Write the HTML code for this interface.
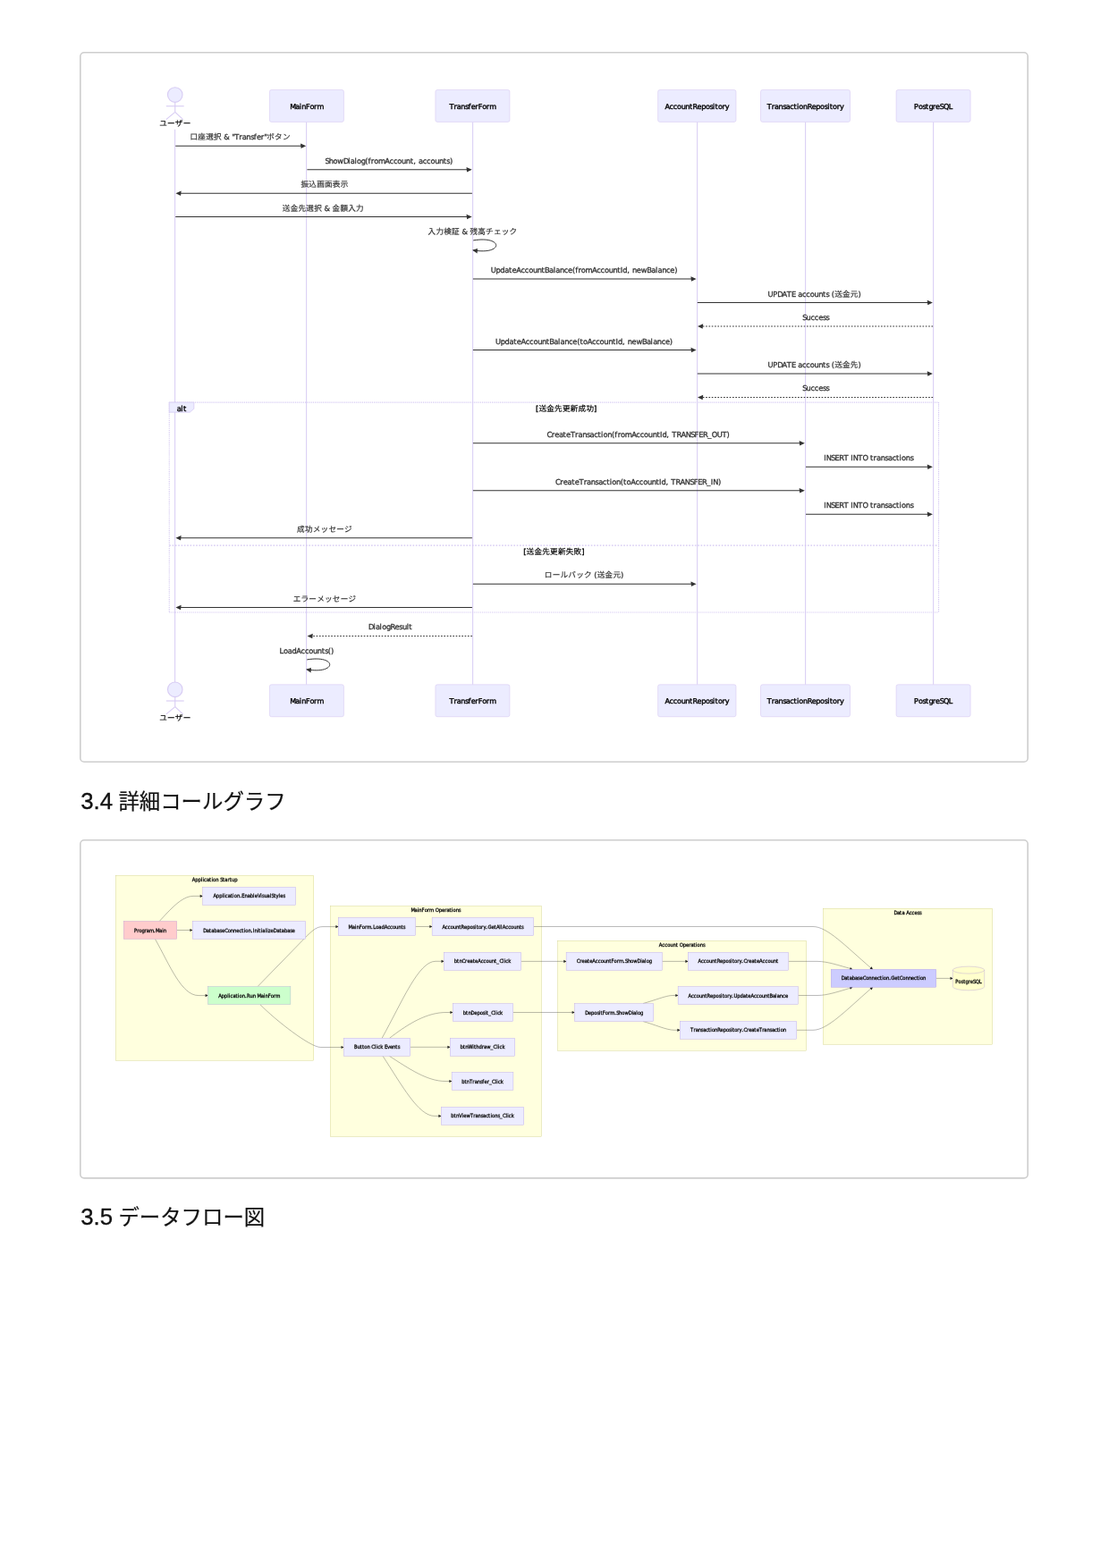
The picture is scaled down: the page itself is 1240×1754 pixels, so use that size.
<!DOCTYPE html>
<html lang="ja">
<head>
<meta charset="utf-8">
<title>3.4 詳細コールグラフ</title>
<style>
html,body{margin:0;padding:0;background:#fff;}
body{width:1240px;height:1754px;position:relative;overflow:hidden;font-family:"Liberation Sans","Noto Sans CJK JP",sans-serif;color:#111;}
.page{position:absolute;left:0;top:0;width:1240px;height:1754px;will-change:transform;}
.mermaid{position:absolute;left:89px;width:1061px;margin:0;}
.mermaid svg{display:block;width:1061px;height:100%;overflow:visible;}
.frame{fill:#fff;stroke:#cecece;stroke-width:1.6px;}
h2{position:absolute;margin:0;left:90.2px;font-weight:400;font-size:23.4px;line-height:40px;height:40px;white-space:nowrap;color:#111;}
h2 .n{font-family:"Liberation Sans",sans-serif;font-size:25.8px;margin-right:-0.77px;-webkit-text-stroke:0.35px #111;}
h2 .j{font-family:"Noto Sans CJK JP",sans-serif;-webkit-text-stroke:0.2px #111;}
.t{font-family:"DejaVu Sans","Noto Sans CJK JP",sans-serif;stroke:#000;stroke-width:0.36px;}
.m{stroke:#333;stroke-width:0.3px;}
.c{font-family:"Noto Sans CJK JP",sans-serif;stroke-width:0.18px;}
.t2{font-family:"DejaVu Sans Condensed","DejaVu Sans","Noto Sans CJK JP",sans-serif;stroke:#111;stroke-width:0.3px;}
</style>
</head>
<body>
<main class="page">
<figure class="mermaid" id="sequence-diagram" style="top:58px;height:795px">
<svg viewBox="89 58 1061 795" role="img" aria-label="振込処理シーケンス図">
<rect class="frame" x="89.8" y="58.8" width="1059.4" height="793.4" rx="4.3"/>
<line x1="195.58" y1="144.69" x2="195.58" y2="765.8" stroke="#dcd2f5" stroke-width="1.15"/>
<line x1="342.58" y1="136.43" x2="342.58" y2="765.8" stroke="#dcd2f5" stroke-width="1.15"/>
<line x1="528.58" y1="136.43" x2="528.58" y2="765.8" stroke="#dcd2f5" stroke-width="1.15"/>
<line x1="779.58" y1="136.43" x2="779.58" y2="765.8" stroke="#dcd2f5" stroke-width="1.15"/>
<line x1="900.58" y1="136.43" x2="900.58" y2="765.8" stroke="#dcd2f5" stroke-width="1.15"/>
<line x1="1043.58" y1="136.43" x2="1043.58" y2="765.8" stroke="#dcd2f5" stroke-width="1.15"/>
<g stroke="#d7cbf3" stroke-width="1.1" fill="#ECECFF">
<line x1="195.75" y1="114.33" x2="195.75" y2="125.37"/>
<line x1="185.81" y1="118.75" x2="205.69" y2="118.75"/>
<line x1="185.81" y1="133.65" x2="195.75" y2="125.37"/>
<line x1="195.75" y1="125.37" x2="204.58" y2="133.65"/>
<circle cx="195.75" cy="106.05" r="8.28"/>
</g>
<text class="t c" x="178.22 187.05 195.88 204.71" y="141" font-size="8.57" fill="#000" transform="matrix(1 0 0.0005 1 -0.0705 0)">ユーザー</text>
<rect x="301.4" y="100.53" width="83" height="35.9" rx="2.1" fill="#ECECFF" stroke="#d6caf2" stroke-width="0.6"/>
<text class="t" x="324.23 330.32 334.83 337.28 341.97 346.48 351.1 354.44" y="122" font-size="8.08" fill="#000" transform="matrix(1 0 0.0005 1 -0.0610 0)">MainForm</text>
<rect x="486.9" y="100.53" width="83" height="35.9" rx="2.1" fill="#ECECFF" stroke="#d6caf2" stroke-width="0.6"/>
<text class="t" x="502.49 507.48 510.82 515.33 520.03 523.51 526.69 531.37 534.71 539.22 543.84 547.18" y="122" font-size="8.08" fill="#000" transform="matrix(1 0 0.0005 1 -0.0610 0)">TransferForm</text>
<rect x="735.65" y="100.53" width="87.3" height="35.9" rx="2.1" fill="#ECECFF" stroke="#d6caf2" stroke-width="0.6"/>
<text class="t" x="743.5 748.57 752.83 757.08 761.7 766.39 771.08 774.48 779.48 784.17 788.95 793.57 797.05 799.5 802.9 807.52 810.86" y="122" font-size="8.08" fill="#000" transform="matrix(1 0 0.0005 1 -0.0610 0)">AccountRepository</text>
<rect x="850.5" y="100.53" width="100" height="35.9" rx="2.1" fill="#ECECFF" stroke="#d6caf2" stroke-width="0.6"/>
<text class="t" x="857.72 862.71 866.06 870.57 875.26 878.74 883.25 887.51 890.91 893.36 897.97 902.67 907.67 912.35 917.14 921.75 925.23 927.68 931.08 935.7 939.04" y="122" font-size="8.08" fill="#000" transform="matrix(1 0 0.0005 1 -0.0610 0)">TransactionRepository</text>
<rect x="1002.1" y="100.53" width="83" height="35.9" rx="2.1" fill="#ECECFF" stroke="#d6caf2" stroke-width="0.6"/>
<text class="t" x="1022.14 1026.93 1031.55 1035.03 1038.43 1042.74 1046.09 1050.77 1054.9 1060.71" y="122" font-size="8.08" fill="#000" transform="matrix(1 0 0.0005 1 -0.0610 0)">PostgreSQL</text>
<g stroke="#d7cbf3" stroke-width="1.1" fill="#ECECFF">
<line x1="195.75" y1="779.6" x2="195.75" y2="790.64"/>
<line x1="185.81" y1="784.02" x2="205.69" y2="784.02"/>
<line x1="185.81" y1="798.92" x2="195.75" y2="790.64"/>
<line x1="195.75" y1="790.64" x2="204.58" y2="798.92"/>
<circle cx="195.75" cy="771.32" r="8.28"/>
</g>
<text class="t c" x="178.22 187.05 195.88 204.71" y="806" font-size="8.57" fill="#000" transform="matrix(1 0 0.0005 1 -0.4030 0)">ユーザー</text>
<rect x="301.4" y="765.8" width="83" height="35.9" rx="2.1" fill="#ECECFF" stroke="#d6caf2" stroke-width="0.6"/>
<text class="t" x="324.23 330.32 334.83 337.28 341.97 346.48 351.1 354.44" y="787" font-size="8.08" fill="#000" transform="matrix(1 0 0.0005 1 -0.3935 0)">MainForm</text>
<rect x="486.9" y="765.8" width="83" height="35.9" rx="2.1" fill="#ECECFF" stroke="#d6caf2" stroke-width="0.6"/>
<text class="t" x="502.49 507.48 510.82 515.33 520.03 523.51 526.69 531.37 534.71 539.22 543.84 547.18" y="787" font-size="8.08" fill="#000" transform="matrix(1 0 0.0005 1 -0.3935 0)">TransferForm</text>
<rect x="735.65" y="765.8" width="87.3" height="35.9" rx="2.1" fill="#ECECFF" stroke="#d6caf2" stroke-width="0.6"/>
<text class="t" x="743.5 748.57 752.83 757.08 761.7 766.39 771.08 774.48 779.48 784.17 788.95 793.57 797.05 799.5 802.9 807.52 810.86" y="787" font-size="8.08" fill="#000" transform="matrix(1 0 0.0005 1 -0.3935 0)">AccountRepository</text>
<rect x="850.5" y="765.8" width="100" height="35.9" rx="2.1" fill="#ECECFF" stroke="#d6caf2" stroke-width="0.6"/>
<text class="t" x="857.72 862.71 866.06 870.57 875.26 878.74 883.25 887.51 890.91 893.36 897.97 902.67 907.67 912.35 917.14 921.75 925.23 927.68 931.08 935.7 939.04" y="787" font-size="8.08" fill="#000" transform="matrix(1 0 0.0005 1 -0.3935 0)">TransactionRepository</text>
<rect x="1002.1" y="765.8" width="83" height="35.9" rx="2.1" fill="#ECECFF" stroke="#d6caf2" stroke-width="0.6"/>
<text class="t" x="1022.14 1026.93 1031.55 1035.03 1038.43 1042.74 1046.09 1050.77 1054.9 1060.71" y="787" font-size="8.08" fill="#000" transform="matrix(1 0 0.0005 1 -0.3935 0)">PostgreSQL</text>
<line x1="196.25" y1="163.2" x2="339.2" y2="163.2" stroke="#333" stroke-width="1.05"/>
<path d="M342.2,163.2 L336,160.4 L336.55,166 Z" fill="#333"/>
<text class="t m" font-size="8.3" fill="#333" transform="matrix(1 0 0.0005 1 -0.0780 0)"><tspan class="c" font-size="8.57" x="212.54 221.37 230.2 239.03" y="156">口座選択</tspan><tspan x="247.73 250.39 256.63 259.29 262.16 267.29 270.72 275.36 280.18 283.76 287.03 291.84 295.28" y="156"> &amp; "Transfer"</tspan><tspan class="c" font-size="8.57" x="298.28 307.11 315.94" y="156">ボタン</tspan></text>
<line x1="343.4" y1="189.7" x2="524.7" y2="189.7" stroke="#333" stroke-width="1.05"/>
<path d="M527.7,189.7 L521.5,186.9 L522.05,192.5 Z" fill="#333"/>
<text class="t m" x="363.56 367.81 372.63 377.38 383.95 389.36 391.88 396.51 399.12 403.86 408.3 411.54 414.81 418.24 422.98 430.31 435.53 439.9 444.27 449.01 453.83 458.66 462.15 465.4 468.05 472.69 477.06 481.43 486.18 491 495.82 499.32 502.9" y="183" font-size="8.3" fill="#333" transform="matrix(1 0 0.0005 1 -0.0915 0)">ShowDialog(fromAccount, accounts)</text>
<line x1="527.9" y1="216.2" x2="199.45" y2="216.2" stroke="#333" stroke-width="1.05"/>
<path d="M196.45,216.2 L202.65,213.4 L202.1,219 Z" fill="#333"/>
<text class="t m c" x="336.51 345.34 354.18 363.01 371.84 380.67" y="209" font-size="8.57" fill="#333" transform="matrix(1 0 0.0005 1 -0.1045 0)">振込画面表示</text>
<line x1="196.25" y1="242.5" x2="524.7" y2="242.5" stroke="#333" stroke-width="1.05"/>
<path d="M527.7,242.5 L521.5,239.7 L522.05,245.3 Z" fill="#333"/>
<text class="t m" font-size="8.3" fill="#333" transform="matrix(1 0 0.0005 1 -0.1180 0)"><tspan class="c" font-size="8.57" x="315.89 324.72 333.55 342.38 351.22" y="236">送金先選択</tspan><tspan x="359.91 362.57 368.81" y="236"> &amp; </tspan><tspan class="c" font-size="8.57" x="371.6 380.43 389.26 398.1" y="236">金額入力</tspan></text>
<path d="M529.23,268.9 C563.18,263.38 563.18,285.46 529.23,279.94" fill="none" stroke="#333" stroke-width="1"/>
<path transform="translate(529.23 279.94) rotate(189.46)" d="M1.16,0 L-4.91,-2.76 L-4.36,2.76 Z" fill="#333"/>
<text class="t m" font-size="8.3" fill="#333" transform="matrix(1 0 0.0005 1 -0.1310 0)"><tspan class="c" font-size="8.57" x="478.6 487.43 496.26 505.09" y="262">入力検証</tspan><tspan x="513.79 516.45 522.69" y="262"> &amp; </tspan><tspan class="c" font-size="8.57" x="525.48 534.31 543.14 551.97 560.8 569.64" y="262">残高チェック</tspan></text>
<line x1="528.9" y1="312" x2="775.6" y2="312" stroke="#333" stroke-width="1.05"/>
<path d="M778.6,312 L772.4,309.2 L772.95,314.8 Z" fill="#333"/>
<text class="t m" x="548.7 554.42 559.34 564.26 568.9 572.4 577.21 582.42 586.79 591.16 595.91 600.73 605.55 609.05 614.05 618.68 621.29 625.93 630.75 635.12 639.93 643.18 646.44 649.88 654.62 661.95 667.16 671.54 675.91 680.65 685.47 690.29 693.79 696.25 701.17 704.41 707.07 711.89 716.7 723.27 728.27 732.91 735.51 740.15 744.97 749.35 754.16" y="305" font-size="8.3" fill="#333" transform="matrix(1 0 0.0005 1 -0.1525 0)">UpdateAccountBalance(fromAccountId, newBalance)</text>
<line x1="779.8" y1="338.5" x2="1039.9" y2="338.5" stroke="#333" stroke-width="1.05"/>
<path d="M1042.9,338.5 L1036.7,335.7 L1037.25,341.3 Z" fill="#333"/>
<text class="t m" font-size="8.3" fill="#333" transform="matrix(1 0 0.0005 1 -0.1660 0)"><tspan x="858.51 864.23 869.16 874.58 879.79 884.92 889.65 892.31 896.95 901.32 905.69 910.43 915.26 920.08 923.58 927.15 929.81" y="332">UPDATE accounts (</tspan><tspan class="c" font-size="8.57" x="933.18 942.02 950.85" y="332">送金元</tspan><tspan x="959.55" y="332">)</tspan></text>
<line x1="1043.1" y1="365" x2="783" y2="365" stroke="#333" stroke-width="1.05" stroke-dasharray="1.66 1.66"/>
<path d="M780,365 L786.2,362.2 L785.65,367.8 Z" fill="#333"/>
<text class="t m" x="897.36 901.61 906.43 910.8 915.17 919.99 923.56" y="358" font-size="8.3" fill="#333" transform="matrix(1 0 0.0005 1 -0.1790 0)">Success</text>
<line x1="528.9" y1="391.5" x2="775.6" y2="391.5" stroke="#333" stroke-width="1.05"/>
<path d="M778.6,391.5 L772.4,388.7 L772.95,394.3 Z" fill="#333"/>
<text class="t m" x="553.97 559.69 564.61 569.53 574.17 577.66 582.48 587.69 592.06 596.43 601.18 606 610.82 614.32 619.32 623.95 626.56 631.2 636.02 640.39 645.2 648.44 651.94 656.68 661.9 666.27 670.64 675.38 680.2 685.03 688.52 690.98 695.9 699.14 701.8 706.62 711.43 718 723 727.64 730.25 734.88 739.71 744.08 748.89" y="385" font-size="8.3" fill="#333" transform="matrix(1 0 0.0005 1 -0.1925 0)">UpdateAccountBalance(toAccountId, newBalance)</text>
<line x1="779.8" y1="418" x2="1039.9" y2="418" stroke="#333" stroke-width="1.05"/>
<path d="M1042.9,418 L1036.7,415.2 L1037.25,420.8 Z" fill="#333"/>
<text class="t m" font-size="8.3" fill="#333" transform="matrix(1 0 0.0005 1 -0.2055 0)"><tspan x="858.51 864.23 869.16 874.58 879.79 884.92 889.65 892.31 896.95 901.32 905.69 910.43 915.26 920.08 923.58 927.15 929.81" y="411">UPDATE accounts (</tspan><tspan class="c" font-size="8.57" x="933.18 942.02 950.85" y="411">送金先</tspan><tspan x="959.55" y="411">)</tspan></text>
<line x1="1043.1" y1="444.5" x2="783" y2="444.5" stroke="#333" stroke-width="1.05" stroke-dasharray="1.66 1.66"/>
<path d="M780,444.5 L786.2,441.7 L785.65,447.3 Z" fill="#333"/>
<text class="t m" x="897.36 901.61 906.43 910.8 915.17 919.99 923.56" y="437" font-size="8.3" fill="#333" transform="matrix(1 0 0.0005 1 -0.2185 0)">Success</text>
<line x1="528.9" y1="495.75" x2="896.8" y2="495.75" stroke="#333" stroke-width="1.05"/>
<path d="M899.8,495.75 L893.6,492.95 L894.15,498.55 Z" fill="#333"/>
<text class="t m" x="611.47 616.75 620.19 625 629.64 633.14 637.95 643.08 646.52 651.15 655.98 659.55 664.19 668.56 672.06 674.58 679.32 684.14 687.38 690.65 694.09 698.83 706.16 711.37 715.74 720.12 724.86 729.68 734.5 738 740.46 745.37 748.62 751.27 756.41 761.55 766.76 772.39 776.64 781.28 786.01 791.15 795.78 801.73 807.45 812.59" y="489" font-size="8.3" fill="#333" transform="matrix(1 0 0.0005 1 -0.2445 0)">CreateTransaction(fromAccountId, TRANSFER_OUT)</text>
<line x1="901" y1="522.25" x2="1039.9" y2="522.25" stroke="#333" stroke-width="1.05"/>
<path d="M1042.9,522.25 L1036.7,519.45 L1037.25,525.05 Z" fill="#333"/>
<text class="t m" x="921.27 923.72 929.36 933.6 938.34 943.48 948.61 951.27 953.72 959.36 964.49 970.44 973.1 976.6 980.03 984.67 989.49 993.07 997.71 1002.08 1005.58 1008.09 1012.84 1017.66" y="515" font-size="8.3" fill="#333" transform="matrix(1 0 0.0005 1 -0.2575 0)">INSERT INTO transactions</text>
<line x1="528.9" y1="548.75" x2="896.8" y2="548.75" stroke="#333" stroke-width="1.05"/>
<path d="M899.8,548.75 L893.6,545.95 L894.15,551.55 Z" fill="#333"/>
<text class="t m" x="621.1 626.38 629.82 634.63 639.27 642.76 647.58 652.71 656.14 660.78 665.6 669.18 673.82 678.19 681.69 684.2 688.95 693.77 697.01 700.51 705.25 710.46 714.83 719.21 723.95 728.77 733.59 737.09 739.55 744.46 747.71 750.36 755.5 760.64 765.85 771.48 775.73 780.37 785.1 790.24 794.87 797.32 802.96" y="542" font-size="8.3" fill="#333" transform="matrix(1 0 0.0005 1 -0.2710 0)">CreateTransaction(toAccountId, TRANSFER_IN)</text>
<line x1="901" y1="575.25" x2="1039.9" y2="575.25" stroke="#333" stroke-width="1.05"/>
<path d="M1042.9,575.25 L1036.7,572.45 L1037.25,578.05 Z" fill="#333"/>
<text class="t m" x="921.27 923.72 929.36 933.6 938.34 943.48 948.61 951.27 953.72 959.36 964.49 970.44 973.1 976.6 980.03 984.67 989.49 993.07 997.71 1002.08 1005.58 1008.09 1012.84 1017.66" y="568" font-size="8.3" fill="#333" transform="matrix(1 0 0.0005 1 -0.2840 0)">INSERT INTO transactions</text>
<line x1="527.9" y1="601.75" x2="199.45" y2="601.75" stroke="#333" stroke-width="1.05"/>
<path d="M196.45,601.75 L202.65,598.95 L202.1,604.55 Z" fill="#333"/>
<text class="t m c" x="332.1 340.93 349.76 358.59 367.42 376.26 385.09" y="595" font-size="8.57" fill="#333" transform="matrix(1 0 0.0005 1 -0.2975 0)">成功メッセージ</text>
<line x1="528.9" y1="653.25" x2="775.6" y2="653.25" stroke="#333" stroke-width="1.05"/>
<path d="M778.6,653.25 L772.4,650.45 L772.95,656.05 Z" fill="#333"/>
<text class="t m" font-size="8.3" fill="#333" transform="matrix(1 0 0.0005 1 -0.3230 0)"><tspan class="c" font-size="8.57" x="608.87 617.7 626.53 635.36 644.2 653.03" y="646">ロールバック</tspan><tspan x="661.73 664.39" y="646"> (</tspan><tspan class="c" font-size="8.57" x="667.76 676.59 685.42" y="646">送金元</tspan><tspan x="694.12" y="646">)</tspan></text>
<line x1="527.9" y1="679.5" x2="199.45" y2="679.5" stroke="#333" stroke-width="1.05"/>
<path d="M196.45,679.5 L202.65,676.7 L202.1,682.3 Z" fill="#333"/>
<text class="t m c" x="327.68 336.51 345.34 354.18 363.01 371.84 380.67 389.5" y="673" font-size="8.57" fill="#333" transform="matrix(1 0 0.0005 1 -0.3365 0)">エラーメッセージ</text>
<line x1="527.9" y1="711.5" x2="346.6" y2="711.5" stroke="#333" stroke-width="1.05" stroke-dasharray="1.66 1.66"/>
<path d="M343.6,711.5 L349.8,708.7 L349.25,714.3 Z" fill="#333"/>
<text class="t m" x="412.05 417.46 419.98 424.62 427.22 431.96 436.4 441.54 446.35 449.93 454.75 457.36" y="704" font-size="8.3" fill="#333" transform="matrix(1 0 0.0005 1 -0.3520 0)">DialogResult</text>
<path d="M343.23,737.9 C377.18,732.38 377.18,754.46 343.23,748.94" fill="none" stroke="#333" stroke-width="1"/>
<path transform="translate(343.23 748.94) rotate(189.46)" d="M1.16,0 L-4.91,-2.76 L-4.36,2.76 Z" fill="#333"/>
<text class="t m" x="312.57 317.04 321.78 326.42 331.33 336.55 340.92 345.29 350.03 354.85 359.68 363.17 366.75 369.99" y="731" font-size="8.3" fill="#333" transform="matrix(1 0 0.0005 1 -0.3655 0)">LoadAccounts()</text>
<g fill="none" stroke="#d2c5f1" stroke-width="1.1" stroke-dasharray="1.1 1.1">
<line x1="189.25" y1="450.1" x2="1049.55" y2="450.1"/>
<line x1="1049.55" y1="450.1" x2="1049.55" y2="685"/>
<line x1="189.25" y1="685" x2="1049.55" y2="685"/>
<line x1="189.25" y1="450.1" x2="189.25" y2="685"/>
<line x1="189.25" y1="610.15" x2="1049.55" y2="610.15" stroke-dasharray="1.66 1.66"/>
</g>
<polygon points="189.25,450.1 216.85,450.1 216.85,457.28 212.21,461.14 189.25,461.14" fill="#ECECFF" stroke="#d6caf2" stroke-width="0.8"/>
<text class="t" x="197.68 202.32 204.92" y="460" font-size="8.3" fill="#000" transform="matrix(1 0 0.0005 1 -0.2300 0)">alt</text>
<text class="t" font-size="8.3" fill="#000" transform="matrix(1 0 0.0005 1 -0.2300 0)"><tspan x="599.05" y="460">[</tspan><tspan class="c" font-size="8.57" x="602.42 611.25 620.08 628.92 637.75 646.58 655.41" y="460">送金先更新成功</tspan><tspan x="664.11" y="460">]</tspan></text>
<text class="t" font-size="8.3" fill="#000" transform="matrix(1 0 0.0005 1 -0.3100 0)"><tspan x="585.25" y="620">[</tspan><tspan class="c" font-size="8.57" x="588.62 597.45 606.28 615.12 623.95 632.78 641.61" y="620">送金先更新失敗</tspan><tspan x="650.31" y="620">]</tspan></text>
</svg>
</figure>
<h2 style="top:875px"><span class="n">3.4 </span><span class="j">詳細コールグラフ</span></h2>
<figure class="mermaid" id="call-graph" style="top:939px;height:380px">
<svg viewBox="89 939 1061 380" role="img" aria-label="詳細コールグラフ">
<rect class="frame" x="89.8" y="939.7" width="1059.4" height="378.2" rx="4.3"/>
<rect x="129.4" y="979.4" width="221.4" height="206.9" fill="#ffffde" stroke="#aaaa33" stroke-width="0.38" stroke-opacity="0.6"/>
<text class="t2" x="214.7 218.16 221.43 224.7 226.43 228.1 231 234.08 236.41 238.08 241.23 244.43 246.2 249.02 251.34 254.42 256.71 259.03 262.23" y="986" font-size="5.87" fill="#111" transform="matrix(1 0 0.0005 1 -0.4930 0)">Application Startup</text>
<rect x="369.3" y="1013.5" width="236.1" height="257.9" fill="#ffffde" stroke="#aaaa33" stroke-width="0.38" stroke-opacity="0.6"/>
<text class="t2" x="459.47 463.62 466.7 468.38 471.58 474.66 477.81 480.09 484.96 486.73 490.68 493.95 497.15 499.43 502.51 504.83 506.5 509.66 512.86" y="1020" font-size="5.87" fill="#111" transform="matrix(1 0 0.0005 1 -0.5100 0)">MainForm Operations</text>
<rect x="623.6" y="1052.3" width="278" height="122.9" fill="#ffffde" stroke="#aaaa33" stroke-width="0.38" stroke-opacity="0.6"/>
<text class="t2" x="736.89 740.35 743.25 746.16 749.31 752.51 755.72 758.04 759.8 763.76 767.03 770.22 772.51 775.59 777.91 779.58 782.73 785.93" y="1059" font-size="5.87" fill="#111" transform="matrix(1 0 0.0005 1 -0.5295 0)">Account Operations</text>
<rect x="920.3" y="1016.2" width="189.3" height="152.1" fill="#ffffde" stroke="#aaaa33" stroke-width="0.38" stroke-opacity="0.6"/>
<text class="t2" x="999.42 1003.01 1006.09 1008.42 1011.5 1013.26 1016.72 1019.63 1022.53 1025.73 1028.11" y="1023" font-size="5.87" fill="#111" transform="matrix(1 0 0.0005 1 -0.5115 0)">Data Access</text>
<path d="M178.3,1030.4 C190,1018 203,1002.4 216,1002.4 L224,1002.4" fill="none" stroke="#484848" stroke-width="0.38"/>
<path transform="translate(226.5 1002.4) rotate(0)" d="M0.4,0 L-2.8,-1.6 L-2.8,1.6 Z" fill="#222"/>
<path d="M197.8,1040.5 L212.5,1040.5" fill="none" stroke="#484848" stroke-width="0.38"/>
<path transform="translate(215.2 1040.5) rotate(0)" d="M0.4,0 L-2.8,-1.6 L-2.8,1.6 Z" fill="#222"/>
<path d="M173.5,1050.5 C190,1080 203,1113.6 222,1113.6 L230,1113.6" fill="none" stroke="#484848" stroke-width="0.38"/>
<path transform="translate(232.4 1113.6) rotate(0)" d="M0.4,0 L-2.8,-1.6 L-2.8,1.6 Z" fill="#222"/>
<path d="M288.3,1103.35 L343.5,1046.6 C350,1040.5 354,1036.6 361,1036.6 L376,1036.6" fill="none" stroke="#484848" stroke-width="0.38"/>
<path transform="translate(378.2 1036.6) rotate(0)" d="M0.4,0 L-2.8,-1.6 L-2.8,1.6 Z" fill="#222"/>
<path d="M291,1123.8 C308.2,1141.3 346.7,1171.5 358.5,1171.5 L382,1171.5" fill="none" stroke="#484848" stroke-width="0.38"/>
<path transform="translate(384.3 1171.5) rotate(0)" d="M0.4,0 L-2.8,-1.6 L-2.8,1.6 Z" fill="#222"/>
<path d="M464.6,1036.5 L481,1036.5" fill="none" stroke="#484848" stroke-width="0.38"/>
<path transform="translate(483.1 1036.5) rotate(0)" d="M0.4,0 L-2.8,-1.6 L-2.8,1.6 Z" fill="#222"/>
<path d="M427.1,1161.3 C450,1120 468,1075.3 487,1075.3 L494,1075.3" fill="none" stroke="#484848" stroke-width="0.38"/>
<path transform="translate(496.3 1075.3) rotate(0)" d="M0.4,0 L-2.8,-1.6 L-2.8,1.6 Z" fill="#222"/>
<path d="M435.5,1161.3 C458,1144 478,1132.5 499,1132.5 L504,1132.5" fill="none" stroke="#484848" stroke-width="0.38"/>
<path transform="translate(506.2 1132.5) rotate(0)" d="M0.4,0 L-2.8,-1.6 L-2.8,1.6 Z" fill="#222"/>
<path d="M458.8,1171.3 L501,1171.3" fill="none" stroke="#484848" stroke-width="0.38"/>
<path transform="translate(503.2 1171.3) rotate(0)" d="M0.4,0 L-2.8,-1.6 L-2.8,1.6 Z" fill="#222"/>
<path d="M435.5,1181.4 C458,1196 478,1209.5 498,1209.5 L503,1209.5" fill="none" stroke="#484848" stroke-width="0.38"/>
<path transform="translate(505.1 1209.5) rotate(0)" d="M0.4,0 L-2.8,-1.6 L-2.8,1.6 Z" fill="#222"/>
<path d="M428.1,1181.4 C450,1215 468,1248.4 486,1248.4 L491,1248.4" fill="none" stroke="#484848" stroke-width="0.38"/>
<path transform="translate(493.2 1248.4) rotate(0)" d="M0.4,0 L-2.8,-1.6 L-2.8,1.6 Z" fill="#222"/>
<path d="M596.7,1036.5 L909,1036.5 C925,1036.5 945,1058 974,1083" fill="none" stroke="#484848" stroke-width="0.38"/>
<path transform="translate(975.7 1084.3) rotate(40)" d="M0.4,0 L-2.8,-1.6 L-2.8,1.6 Z" fill="#222"/>
<path d="M582.7,1075.4 L631,1075.4" fill="none" stroke="#484848" stroke-width="0.38"/>
<path transform="translate(633.1 1075.4) rotate(0)" d="M0.4,0 L-2.8,-1.6 L-2.8,1.6 Z" fill="#222"/>
<path d="M573.7,1132.5 L640,1132.5" fill="none" stroke="#484848" stroke-width="0.38"/>
<path transform="translate(642.4 1132.5) rotate(0)" d="M0.4,0 L-2.8,-1.6 L-2.8,1.6 Z" fill="#222"/>
<path d="M740.5,1075.4 L767,1075.4" fill="none" stroke="#484848" stroke-width="0.38"/>
<path transform="translate(769.2 1075.4) rotate(0)" d="M0.4,0 L-2.8,-1.6 L-2.8,1.6 Z" fill="#222"/>
<path d="M719.1,1122.5 C732,1119 745,1113.5 752,1113.5 L756,1113.5" fill="none" stroke="#484848" stroke-width="0.38"/>
<path transform="translate(758.1 1113.5) rotate(0)" d="M0.4,0 L-2.8,-1.6 L-2.8,1.6 Z" fill="#222"/>
<path d="M719.1,1142.6 C732,1146 745,1152.3 754,1152.3 L758,1152.3" fill="none" stroke="#484848" stroke-width="0.38"/>
<path transform="translate(760.2 1152.3) rotate(0)" d="M0.4,0 L-2.8,-1.6 L-2.8,1.6 Z" fill="#222"/>
<path d="M881.6,1075.4 L914,1075.4 C925,1075.4 938,1080 951,1083.5" fill="none" stroke="#484848" stroke-width="0.38"/>
<path transform="translate(953.1 1084.3) rotate(17)" d="M0.4,0 L-2.8,-1.6 L-2.8,1.6 Z" fill="#222"/>
<path d="M892.5,1113.5 L914,1113.5 C925,1113.5 938,1109 951,1105.2" fill="none" stroke="#484848" stroke-width="0.38"/>
<path transform="translate(953.1 1104.4) rotate(-17)" d="M0.4,0 L-2.8,-1.6 L-2.8,1.6 Z" fill="#222"/>
<path d="M890.8,1152.3 L909,1152.3 C925,1152.3 945,1131 974,1105.7" fill="none" stroke="#484848" stroke-width="0.38"/>
<path transform="translate(975.7 1104.4) rotate(-40)" d="M0.4,0 L-2.8,-1.6 L-2.8,1.6 Z" fill="#222"/>
<path d="M1046.8,1094.4 L1063,1094.4" fill="none" stroke="#484848" stroke-width="0.38"/>
<path transform="translate(1065.3 1094.4) rotate(0)" d="M0.4,0 L-2.8,-1.6 L-2.8,1.6 Z" fill="#222"/>
<rect x="226.5" y="992.3" width="104.2" height="20.2" fill="#ECECFF" stroke="#9370DB" stroke-width="0.38" stroke-opacity="0.6"/>
<text class="t2" x="238.42 241.88 245.15 248.42 250.15 251.82 254.73 257.81 260.13 261.8 264.95 268.15 270.31 273.45 276.66 279.74 283 284.73 287.93 291.37 293.05 295.42 298.63 301.71 303.44 306.26 308.58 311.47 313.2 316.4" y="1004" font-size="5.87" fill="#111" transform="matrix(1 0 0.0005 1 -0.5020 0)">Application.EnableVisualStyles</text>
<rect x="138.2" y="1030.4" width="59.6" height="20.1" fill="#ffcccc" stroke="#9370DB" stroke-width="0.38" stroke-opacity="0.6"/>
<text class="t2" x="149.92 153.2 155.48 158.63 161.58 163.86 166.94 171.81 173.96 178.12 181.2 182.87" y="1043" font-size="5.87" fill="#111" transform="matrix(1 0 0.0005 1 -0.5215 0)">Program.Main</text>
<rect x="215.2" y="1030.4" width="126.6" height="20.1" fill="#ECECFF" stroke="#9370DB" stroke-width="0.38" stroke-opacity="0.6"/>
<text class="t2" x="227.18 230.78 233.86 236.18 239.26 242.53 245.61 247.98 251.18 254.69 257.84 261.04 264.25 267.44 270.35 272.67 274.34 277.49 280.7 282.85 284.48 287.68 289.36 291.68 293.35 296.43 298.16 299.83 302.62 305.82 309.41 312.49 314.82 317.9 321.17 324.25 326.62" y="1043" font-size="5.87" fill="#111" transform="matrix(1 0 0.0005 1 -0.5215 0)">DatabaseConnection.InitializeDatabase</text>
<rect x="232.4" y="1103.5" width="92.5" height="20.1" fill="#ccffcc" stroke="#9370DB" stroke-width="0.38" stroke-opacity="0.6"/>
<text class="t2" x="244.17 247.63 250.89 254.16 255.89 257.56 260.47 263.55 265.87 267.54 270.69 273.9 276.05 279.47 282.67 285.87 287.64 291.8 294.88 296.55 299.75 302.83 305.98 308.27" y="1116" font-size="5.87" fill="#111" transform="matrix(1 0 0.0005 1 -0.5580 0)">Application.Run MainForm</text>
<rect x="378.2" y="1026.4" width="86.4" height="20.2" fill="#ECECFF" stroke="#9370DB" stroke-width="0.38" stroke-opacity="0.6"/>
<text class="t2" x="389.58 393.74 396.82 398.49 401.69 404.77 407.92 410.21 415.08 417.23 420.2 423.35 426.43 429.7 433.16 436.06 438.96 442.12 445.32 448.52 450.85" y="1039" font-size="5.87" fill="#111" transform="matrix(1 0 0.0005 1 -0.5195 0)">MainForm.LoadAccounts</text>
<rect x="483.1" y="1026.4" width="113.6" height="20.2" fill="#ECECFF" stroke="#9370DB" stroke-width="0.38" stroke-opacity="0.6"/>
<text class="t2" x="494.42 497.88 500.78 503.69 506.84 510.04 513.24 515.57 518.98 522.18 525.45 528.6 530.97 532.65 534.97 538.12 540.4 543.29 545.45 549.41 552.61 554.93 558.39 560.13 561.86 565.32 568.22 571.13 574.28 577.48 580.68 583.01" y="1039" font-size="5.87" fill="#111" transform="matrix(1 0 0.0005 1 -0.5195 0)">AccountRepository.GetAllAccounts</text>
<rect x="496.3" y="1065.3" width="86.4" height="20.2" fill="#ECECFF" stroke="#9370DB" stroke-width="0.38" stroke-opacity="0.6"/>
<text class="t2" x="507.81 511.08 513.4 516.61 520.11 522.4 525.59 528.67 531 534.19 537.65 540.56 543.46 546.61 549.82 553.02 555.34 558.42 561.93 563.66 565.33 568.23" y="1077" font-size="5.87" fill="#111" transform="matrix(1 0 0.0005 1 -0.5385 0)">btnCreateAccount_Click</text>
<rect x="506.2" y="1122.5" width="67.5" height="20.1" fill="#ECECFF" stroke="#9370DB" stroke-width="0.38" stroke-opacity="0.6"/>
<text class="t2" x="517.84 521.11 523.43 526.63 530.23 533.43 536.69 539.84 542.22 543.89 546.22 549.29 552.8 554.53 556.2 559.1" y="1135" font-size="5.87" fill="#111" transform="matrix(1 0 0.0005 1 -0.5675 0)">btnDeposit_Click</text>
<rect x="384.3" y="1161.3" width="74.5" height="20.1" fill="#ECECFF" stroke="#9370DB" stroke-width="0.38" stroke-opacity="0.6"/>
<text class="t2" x="396.08 399.4 402.6 404.92 407.25 410.4 413.6 415.37 418.87 420.61 422.28 425.18 428.14 429.9 433.05 435.92 439.12 442.32 444.65" y="1173" font-size="5.87" fill="#111" transform="matrix(1 0 0.0005 1 -0.5865 0)">Button Click Events</text>
<rect x="503.2" y="1161.3" width="72.6" height="20.1" fill="#ECECFF" stroke="#9370DB" stroke-width="0.38" stroke-opacity="0.6"/>
<text class="t2" x="514.58 517.85 520.17 523.38 528.38 530.05 532.37 535.58 538.84 541.13 544.21 548.57 551.64 555.15 556.88 558.56 561.46" y="1173" font-size="5.87" fill="#111" transform="matrix(1 0 0.0005 1 -0.5865 0)">btnWithdraw_Click</text>
<rect x="505.1" y="1199.4" width="68.8" height="20.1" fill="#ECECFF" stroke="#9370DB" stroke-width="0.38" stroke-opacity="0.6"/>
<text class="t2" x="516.18 519.45 521.77 524.97 528.38 530.66 533.74 536.95 539.32 541.49 544.69 546.97 550.05 553.56 555.29 556.96 559.86" y="1212" font-size="5.87" fill="#111" transform="matrix(1 0 0.0005 1 -0.6060 0)">btnTransfer_Click</text>
<rect x="493.2" y="1238.3" width="92.6" height="20.1" fill="#ECECFF" stroke="#9370DB" stroke-width="0.38" stroke-opacity="0.6"/>
<text class="t2" x="504.31 507.58 509.9 513.11 516.55 518.22 521.42 525.78 529.19 531.47 534.55 537.76 540.13 543.21 546.12 548.44 550.11 553.26 556.47 558.84 561.92 565.43 567.16 568.83 571.73" y="1250" font-size="5.87" fill="#111" transform="matrix(1 0 0.0005 1 -0.6250 0)">btnViewTransactions_Click</text>
<rect x="633.1" y="1065.3" width="107.4" height="20.2" fill="#ECECFF" stroke="#9370DB" stroke-width="0.38" stroke-opacity="0.6"/>
<text class="t2" x="644.81 648.31 650.6 653.79 656.87 659.2 662.39 665.86 668.76 671.66 674.81 678.02 681.22 683.54 686.62 689.77 692.06 696.93 699.08 701.9 705.1 708.25 712.62 716.22 717.89 720.97 722.7 725.85" y="1077" font-size="5.87" fill="#111" transform="matrix(1 0 0.0005 1 -0.5385 0)">CreateAccountForm.ShowDialog</text>
<rect x="769.2" y="1065.3" width="112.4" height="20.2" fill="#ECECFF" stroke="#9370DB" stroke-width="0.38" stroke-opacity="0.6"/>
<text class="t2" x="780.52 783.98 786.88 789.79 792.94 796.14 799.34 801.67 805.08 808.28 811.55 814.7 817.07 818.74 821.07 824.22 826.5 829.39 831.55 835.05 837.34 840.53 843.61 845.94 849.13 852.6 855.5 858.4 861.55 864.76 867.96" y="1077" font-size="5.87" fill="#111" transform="matrix(1 0 0.0005 1 -0.5385 0)">AccountRepository.CreateAccount</text>
<rect x="758.1" y="1103.5" width="134.4" height="20.1" fill="#ECECFF" stroke="#9370DB" stroke-width="0.38" stroke-opacity="0.6"/>
<text class="t2" x="769.48 772.95 775.85 778.75 781.9 785.11 788.31 790.63 794.05 797.25 800.51 803.66 806.04 807.71 810.03 813.19 815.47 818.36 820.51 824.31 827.58 830.85 833.93 836.25 839.45 842.91 845.82 848.72 851.87 855.07 858.28 860.6 863.92 867 868.73 871.81 875.01 877.92" y="1116" font-size="5.87" fill="#111" transform="matrix(1 0 0.0005 1 -0.5580 0)">AccountRepository.UpdateAccountBalance</text>
<rect x="642.4" y="1122.5" width="88.4" height="20.1" fill="#ECECFF" stroke="#9370DB" stroke-width="0.38" stroke-opacity="0.6"/>
<text class="t2" x="654.18 657.78 660.98 664.24 667.4 669.77 671.44 673.77 676.85 680 682.28 687.15 689.3 692.12 695.33 698.48 702.84 706.44 708.11 711.19 712.92 716.07" y="1135" font-size="5.87" fill="#111" transform="matrix(1 0 0.0005 1 -0.5675 0)">DepositForm.ShowDialog</text>
<rect x="760.2" y="1142.3" width="130.6" height="20.1" fill="#ECECFF" stroke="#9370DB" stroke-width="0.38" stroke-opacity="0.6"/>
<text class="t2" x="772.06 775.41 777.65 780.68 783.82 786.15 789.18 792.03 794.31 795.95 799.05 802.19 805.55 808.69 811.9 814.99 817.32 818.96 821.25 824.34 826.58 829.42 831.53 834.98 837.22 840.36 843.39 845.67 848.81 852.15 854.39 857.42 860.57 862.9 865.92 868.77 871.06 872.7 875.79" y="1154" font-size="5.87" fill="#111" transform="matrix(1 0 0.0005 1 -0.5770 0)">TransactionRepository.CreateTransaction</text>
<rect x="929.2" y="1084.3" width="117.6" height="20.1" fill="#ccccff" stroke="#9370DB" stroke-width="0.38" stroke-opacity="0.6"/>
<text class="t2" x="940.66 944.26 947.34 949.66 952.74 956.01 959.09 961.47 964.67 968.17 971.32 974.53 977.73 980.93 983.83 986.15 987.83 990.98 994.18 996.33 1000.3 1003.5 1005.82 1009.33 1012.48 1015.68 1018.89 1022.08 1024.99 1027.31 1028.98 1032.13" y="1096" font-size="5.87" fill="#111" transform="matrix(1 0 0.0005 1 -0.5480 0)">DatabaseConnection.GetConnection</text>
<path d="M1065.3,1085.1 a17.7,4 0 0 0 35.4,0 a17.7,4 0 0 0 -35.4,0 l0,18.7 a17.7,4 0 0 0 35.4,0 l0,-18.7" fill="#ffffcc" stroke="#9370DB" stroke-width="0.38" stroke-opacity="0.75"/>
<text class="t2" x="1068.35 1071.62 1074.77 1077.15 1079.47 1082.42 1084.7 1087.9 1090.72 1094.68" y="1100" font-size="5.87" fill="#111" transform="matrix(1 0 0.0005 1 -0.5500 0)">PostgreSQL</text>
</svg>
</figure>
<h2 style="top:1339.7px"><span class="n">3.5 </span><span class="j">データフロー図</span></h2>
</main>
</body>
</html>
